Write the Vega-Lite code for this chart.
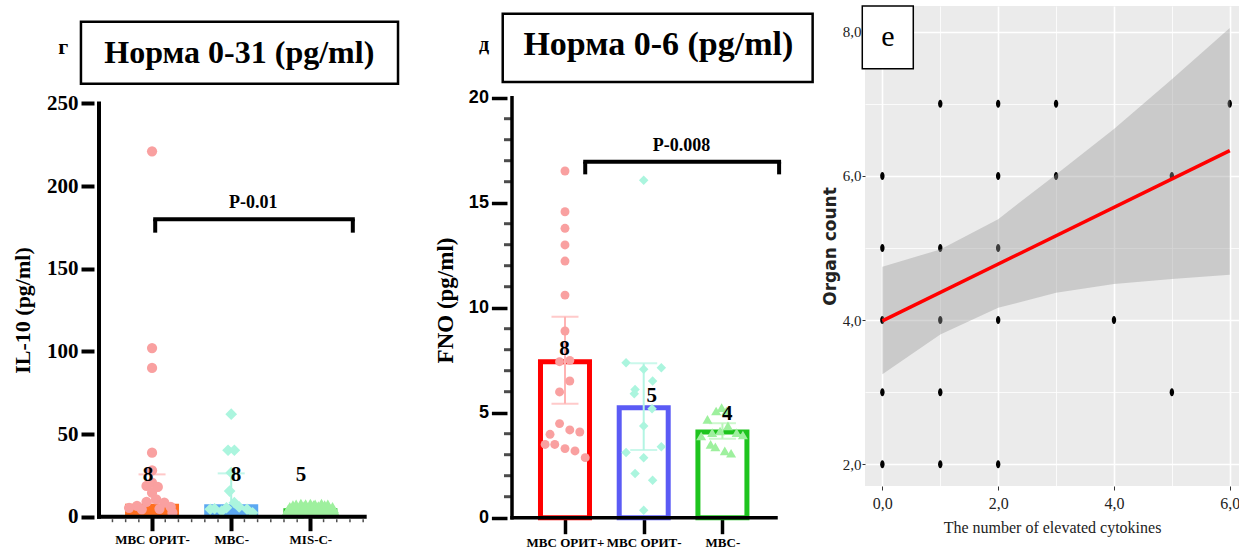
{
  "$schema": "https://vega.github.io/schema/vega-lite/v6.json",
  "padding": {"left": 11, "top": 5, "right": 0, "bottom": 0},
  "autosize": {"type": "pad"},
  "bounds": "flush",
  "spacing": 84,
  "config": {"view": {"stroke": null}},
  "datasets": {
    "p1bars": [
      {"group": "МВС ОРИТ-", "x": 1, "value": 7.9, "hi": 25.6},
      {"group": "МВС-", "x": 2, "value": 7.5, "hi": 26.2},
      {"group": "MIS-C-", "x": 3, "value": 5.1, "hi": 5.1}
    ],
    "p1minor": [
      {"v": 0.5}, {"v": 0.6667}, {"v": 0.8333}, {"v": 1.1667}, {"v": 1.3333}, {"v": 1.5}, {"v": 1.6667}, {"v": 1.8333},
      {"v": 2.1667}, {"v": 2.3333}, {"v": 2.5}, {"v": 2.6667}, {"v": 2.8333}, {"v": 3.1667}, {"v": 3.3333}, {"v": 3.5}, {"v": 3.6667}
    ],
    "p1pts": [
      {"group": "МВС ОРИТ-", "x": 1.0, "value": 221},
      {"group": "МВС ОРИТ-", "x": 1.0, "value": 102},
      {"group": "МВС ОРИТ-", "x": 1.0, "value": 90},
      {"group": "МВС ОРИТ-", "x": 1.0, "value": 38.7},
      {"group": "МВС ОРИТ-", "x": 1.0, "value": 28},
      {"group": "МВС ОРИТ-", "x": 1.0, "value": 20.6},
      {"group": "МВС ОРИТ-", "x": 0.93, "value": 18.6},
      {"group": "МВС ОРИТ-", "x": 1.073, "value": 18},
      {"group": "МВС ОРИТ-", "x": 1.0, "value": 14.5},
      {"group": "МВС ОРИТ-", "x": 1.053, "value": 10.5},
      {"group": "МВС ОРИТ-", "x": 0.93, "value": 9},
      {"group": "МВС ОРИТ-", "x": 1.155, "value": 8.5},
      {"group": "МВС ОРИТ-", "x": 0.81, "value": 6.5},
      {"group": "МВС ОРИТ-", "x": 0.71, "value": 5.4},
      {"group": "МВС ОРИТ-", "x": 1.236, "value": 5.9},
      {"group": "МВС ОРИТ-", "x": 0.87, "value": 4.5},
      {"group": "МВС ОРИТ-", "x": 1.094, "value": 4.8},
      {"group": "МВС ОРИТ-", "x": 1.257, "value": 2.4},
      {"group": "МВС-", "x": 2.0, "value": 62},
      {"group": "МВС-", "x": 1.96, "value": 40.2},
      {"group": "МВС-", "x": 2.04, "value": 40.2},
      {"group": "МВС-", "x": 2.0, "value": 26.6},
      {"group": "МВС-", "x": 1.98, "value": 15.5},
      {"group": "МВС-", "x": 2.04, "value": 8.5},
      {"group": "МВС-", "x": 1.735, "value": 4.5},
      {"group": "МВС-", "x": 1.88, "value": 3.4},
      {"group": "МВС-", "x": 2.1, "value": 5.9},
      {"group": "МВС-", "x": 2.2, "value": 4.5},
      {"group": "МВС-", "x": 2.27, "value": 2.4},
      {"group": "МВС-", "x": 1.94, "value": 5.4},
      {"group": "МВС-", "x": 1.79, "value": 4.8},
      {"group": "MIS-C-", "x": 2.70, "value": 2.0},
      {"group": "MIS-C-", "x": 2.72, "value": 4.0},
      {"group": "MIS-C-", "x": 2.74, "value": 5.5},
      {"group": "MIS-C-", "x": 2.76, "value": 2.5},
      {"group": "MIS-C-", "x": 2.78, "value": 6.5},
      {"group": "MIS-C-", "x": 2.80, "value": 4.0},
      {"group": "MIS-C-", "x": 2.82, "value": 7.0},
      {"group": "MIS-C-", "x": 2.84, "value": 2.0},
      {"group": "MIS-C-", "x": 2.86, "value": 5.0},
      {"group": "MIS-C-", "x": 2.88, "value": 7.5},
      {"group": "MIS-C-", "x": 2.90, "value": 3.5},
      {"group": "MIS-C-", "x": 2.92, "value": 6.0},
      {"group": "MIS-C-", "x": 2.94, "value": 7.2},
      {"group": "MIS-C-", "x": 2.96, "value": 2.5},
      {"group": "MIS-C-", "x": 2.98, "value": 5.0},
      {"group": "MIS-C-", "x": 3.00, "value": 7.5},
      {"group": "MIS-C-", "x": 3.02, "value": 3.0},
      {"group": "MIS-C-", "x": 3.04, "value": 6.5},
      {"group": "MIS-C-", "x": 3.06, "value": 7.0},
      {"group": "MIS-C-", "x": 3.08, "value": 4.0},
      {"group": "MIS-C-", "x": 3.10, "value": 6.0},
      {"group": "MIS-C-", "x": 3.12, "value": 2.0},
      {"group": "MIS-C-", "x": 3.14, "value": 7.5},
      {"group": "MIS-C-", "x": 3.16, "value": 4.5},
      {"group": "MIS-C-", "x": 3.18, "value": 6.5},
      {"group": "MIS-C-", "x": 3.20, "value": 3.0},
      {"group": "MIS-C-", "x": 3.22, "value": 7.0},
      {"group": "MIS-C-", "x": 3.24, "value": 5.0},
      {"group": "MIS-C-", "x": 3.26, "value": 2.5},
      {"group": "MIS-C-", "x": 3.28, "value": 5.5},
      {"group": "MIS-C-", "x": 3.30, "value": 3.0}
    ],
    "p1lab": [
      {"t": "8", "x": 0.95, "y": 25.2},
      {"t": "8", "x": 2.06, "y": 25.2},
      {"t": "5", "x": 2.88, "y": 25.2}
    ],
    "p2bars": [
      {"group": "МВС ОРИТ+", "x": 1, "value": 7.43, "lo": 5.43, "hi": 9.57},
      {"group": "МВС ОРИТ-", "x": 2, "value": 5.24, "lo": 3.22, "hi": 7.35},
      {"group": "МВС-", "x": 3, "value": 4.08, "lo": 3.76, "hi": 4.5}
    ],
    "p2minor": [
      {"v": 1}, {"v": 2}, {"v": 3}, {"v": 4}, {"v": 6}, {"v": 7}, {"v": 8}, {"v": 9},
      {"v": 11}, {"v": 12}, {"v": 13}, {"v": 14}, {"v": 16}, {"v": 17}, {"v": 18}, {"v": 19}
    ],
    "p2pts": [
      {"group": "МВС ОРИТ+", "x": 1.0, "value": 16.51},
      {"group": "МВС ОРИТ+", "x": 1.0, "value": 14.57},
      {"group": "МВС ОРИТ+", "x": 1.0, "value": 13.78},
      {"group": "МВС ОРИТ+", "x": 1.0, "value": 12.99},
      {"group": "МВС ОРИТ+", "x": 1.0, "value": 12.22},
      {"group": "МВС ОРИТ+", "x": 1.0, "value": 10.6},
      {"group": "МВС ОРИТ+", "x": 1.0, "value": 8.89},
      {"group": "МВС ОРИТ+", "x": 0.931, "value": 7.43},
      {"group": "МВС ОРИТ+", "x": 1.061, "value": 7.49},
      {"group": "МВС ОРИТ+", "x": 1.061, "value": 6.51},
      {"group": "МВС ОРИТ+", "x": 0.931, "value": 5.99},
      {"group": "МВС ОРИТ+", "x": 0.931, "value": 4.48},
      {"group": "МВС ОРИТ+", "x": 0.81, "value": 3.97},
      {"group": "МВС ОРИТ+", "x": 1.061, "value": 4.18},
      {"group": "МВС ОРИТ+", "x": 1.188, "value": 4.08},
      {"group": "МВС ОРИТ+", "x": 0.748, "value": 3.49},
      {"group": "МВС ОРИТ+", "x": 0.87, "value": 3.49},
      {"group": "МВС ОРИТ+", "x": 1.0, "value": 3.29},
      {"group": "МВС ОРИТ+", "x": 1.127, "value": 3.18},
      {"group": "МВС ОРИТ+", "x": 1.257, "value": 2.86},
      {"group": "МВС ОРИТ-", "x": 2.0, "value": 16.07},
      {"group": "МВС ОРИТ-", "x": 1.776, "value": 7.38},
      {"group": "МВС ОРИТ-", "x": 2.0, "value": 7.07},
      {"group": "МВС ОРИТ-", "x": 2.224, "value": 7.14},
      {"group": "МВС ОРИТ-", "x": 2.113, "value": 6.51},
      {"group": "МВС ОРИТ-", "x": 1.89, "value": 6.11},
      {"group": "МВС ОРИТ-", "x": 1.88, "value": 5.9},
      {"group": "МВС ОРИТ-", "x": 2.106, "value": 5.19},
      {"group": "МВС ОРИТ-", "x": 2.0, "value": 4.37},
      {"group": "МВС ОРИТ-", "x": 1.776, "value": 3.1},
      {"group": "МВС ОРИТ-", "x": 2.224, "value": 3.38},
      {"group": "МВС ОРИТ-", "x": 2.0, "value": 2.86},
      {"group": "МВС ОРИТ-", "x": 1.89, "value": 2.1},
      {"group": "МВС ОРИТ-", "x": 2.113, "value": 1.78},
      {"group": "МВС ОРИТ-", "x": 2.0, "value": 0.35},
      {"group": "МВС-", "x": 2.81, "value": 4.68},
      {"group": "МВС-", "x": 2.92, "value": 5.08},
      {"group": "МВС-", "x": 2.99, "value": 5.24},
      {"group": "МВС-", "x": 3.05, "value": 5.08},
      {"group": "МВС-", "x": 2.73, "value": 3.89},
      {"group": "МВС-", "x": 2.87, "value": 4.05},
      {"group": "МВС-", "x": 2.97, "value": 4.13},
      {"group": "МВС-", "x": 3.07, "value": 4.37},
      {"group": "МВС-", "x": 3.18, "value": 4.05},
      {"group": "МВС-", "x": 3.26, "value": 3.94},
      {"group": "МВС-", "x": 2.85, "value": 3.49},
      {"group": "МВС-", "x": 2.91, "value": 3.37},
      {"group": "МВС-", "x": 3.03, "value": 3.18},
      {"group": "МВС-", "x": 3.11, "value": 3.07}
    ],
    "p2lab": [
      {"t": "8", "x": 0.993, "y": 8.02},
      {"t": "5", "x": 2.101, "y": 5.795},
      {"t": "4", "x": 3.061, "y": 4.924}
    ],
    "p3pts": [
      {"x": 1, "y": 7}, {"x": 2, "y": 7}, {"x": 3, "y": 7}, {"x": 6, "y": 7},
      {"x": 0, "y": 6}, {"x": 2, "y": 6}, {"x": 3, "y": 6}, {"x": 5, "y": 6},
      {"x": 0, "y": 5}, {"x": 1, "y": 5}, {"x": 2, "y": 5},
      {"x": 0, "y": 4}, {"x": 1, "y": 4}, {"x": 2, "y": 4}, {"x": 4, "y": 4},
      {"x": 0, "y": 3}, {"x": 1, "y": 3}, {"x": 5, "y": 3},
      {"x": 0, "y": 2}, {"x": 1, "y": 2}, {"x": 2, "y": 2}
    ],
    "p3band": [
      {"x": 0, "lo": 3.25, "hi": 4.74},
      {"x": 1, "lo": 3.80, "hi": 4.98},
      {"x": 2, "lo": 4.17, "hi": 5.40},
      {"x": 3, "lo": 4.38, "hi": 6.02},
      {"x": 4, "lo": 4.50, "hi": 6.65},
      {"x": 5, "lo": 4.57, "hi": 7.34},
      {"x": 6, "lo": 4.63, "hi": 8.05}
    ],
    "p3fit": [
      {"x": 0, "y": 3.99},
      {"x": 6, "y": 6.35}
    ]
  },
  "hconcat": [
    {
      "width": 329,
      "height": 510.7,
      "resolve": {"scale": {"color": "independent", "shape": "independent", "size": "independent"}},
      "layer": [
        {
          "data": {"name": "p1bars"},
          "mark": {"type": "bar", "width": 54},
          "encoding": {
            "x": {"field": "x", "type": "quantitative",
              "scale": {"domain": [0.33, 4.3594], "nice": false, "zero": false},
              "axis": {
                "values": [1, 2, 3],
                "labelExpr": "datum.value === 1 ? 'МВС ОРИТ-' : datum.value === 2 ? 'МВС-' : 'MIS-C-'",
                "domain": false, "grid": false, "title": null,
                "tickColor": "black", "tickSize": 14, "tickWidth": 4,
                "labelFont": "Liberation Serif", "labelFontWeight": "bold", "labelFontSize": 13, "labelColor": "black",
                "labelPadding": 3, "labelAngle": 0, "labelFlush": false, "labelOverlap": false
              }
            },
            "y": {"field": "value", "type": "quantitative",
              "scale": {"domain": [0, 308.9], "nice": false},
              "axis": {
                "values": [0, 50, 100, 150, 200, 250],
                "domain": false, "grid": false,
                "tickColor": "black", "tickSize": 13, "tickWidth": 4,
                "labelFont": "Liberation Serif", "labelFontWeight": "bold", "labelFontSize": 21, "labelColor": "black", "labelPadding": 3,
                "labelOverlap": false,
                "title": "IL-10 (pg/ml)", "titleFont": "Liberation Serif", "titleFontWeight": "bold", "titleFontSize": 22, "titleColor": "black",
                "titlePadding": 12, "titleY": 304
              }
            },
            "color": {"field": "group", "type": "nominal",
              "scale": {"domain": ["МВС ОРИТ-", "МВС-", "MIS-C-"], "range": ["#FF6F1F", "#5CA8F2", "#22C322"]}, "legend": null}
          }
        },
        {
          "data": {"name": "p1bars"},
          "transform": [{"filter": "datum.hi > datum.value"}],
          "mark": {"type": "rule", "strokeWidth": 2},
          "encoding": {
            "x": {"field": "x", "type": "quantitative"},
            "y": {"field": "value", "type": "quantitative"},
            "y2": {"field": "hi"},
            "color": {"field": "group", "type": "nominal",
              "scale": {"domain": ["МВС ОРИТ-", "МВС-", "MIS-C-"], "range": ["#FFB0B0", "#A9F2DF", "#B0F0B0"]}, "legend": null}
          }
        },
        {
          "data": {"name": "p1bars"},
          "transform": [{"filter": "datum.hi > datum.value"}],
          "mark": {"type": "tick", "orient": "horizontal", "size": 27, "thickness": 2},
          "encoding": {
            "x": {"field": "x", "type": "quantitative"},
            "y": {"field": "hi", "type": "quantitative"},
            "color": {"field": "group", "type": "nominal",
              "scale": {"domain": ["МВС ОРИТ-", "МВС-", "MIS-C-"], "range": ["#FFB0B0", "#A9F2DF", "#B0F0B0"]}, "legend": null}
          }
        },
        {
          "data": {"name": "p1pts"},
          "mark": {"type": "point", "filled": true, "opacity": 1},
          "encoding": {
            "x": {"field": "x", "type": "quantitative"},
            "y": {"field": "value", "type": "quantitative"},
            "color": {"field": "group", "type": "nominal",
              "scale": {"domain": ["МВС ОРИТ-", "МВС-", "MIS-C-"], "range": ["#F9A0A0", "#ABF5DE", "#9EF09E"]}, "legend": null},
            "shape": {"field": "group", "type": "nominal",
              "scale": {"domain": ["МВС ОРИТ-", "МВС-", "MIS-C-"], "range": ["circle", "diamond", "triangle-up"]}, "legend": null},
            "size": {"field": "group", "type": "nominal",
              "scale": {"domain": ["МВС ОРИТ-", "МВС-", "MIS-C-"], "range": [105, 169, 60]}, "legend": null}
          }
        },
        {
          "data": {"name": "p1lab"},
          "mark": {"type": "text", "font": "Liberation Serif", "fontWeight": "bold", "fontSize": 21, "color": "black", "baseline": "middle"},
          "encoding": {
            "x": {"field": "x", "type": "quantitative"},
            "y": {"field": "y", "type": "quantitative"},
            "text": {"field": "t"}
          }
        },
        {
          "data": {"values": [{}]},
          "mark": {"type": "rule", "strokeWidth": 4, "color": "black", "strokeCap": "square"},
          "encoding": {
            "x": {"datum": 1.04, "type": "quantitative"},
            "x2": {"datum": 3.536},
            "y": {"datum": 179.9, "type": "quantitative"}
          }
        },
        {
          "data": {"values": [{}]},
          "mark": {"type": "rule", "strokeWidth": 4, "color": "black"},
          "encoding": {
            "x": {"datum": 1.04, "type": "quantitative"},
            "y": {"datum": 171.8, "type": "quantitative"},
            "y2": {"datum": 179.9}
          }
        },
        {
          "data": {"values": [{}]},
          "mark": {"type": "rule", "strokeWidth": 4, "color": "black"},
          "encoding": {
            "x": {"datum": 3.536, "type": "quantitative"},
            "y": {"datum": 171.8, "type": "quantitative"},
            "y2": {"datum": 179.9}
          }
        },
        {
          "data": {"values": [{}]},
          "mark": {"type": "text", "text": "P-0.01", "font": "Liberation Serif", "fontWeight": "bold", "fontSize": 18, "color": "black", "baseline": "middle"},
          "encoding": {
            "x": {"datum": 2.277, "type": "quantitative"},
            "y": {"datum": 189.9, "type": "quantitative"}
          }
        },
        {
          "data": {"values": [{}]},
          "mark": {"type": "rect", "fill": "white", "stroke": "black", "strokeWidth": 2.5},
          "encoding": {
            "x": {"datum": 0.102, "type": "quantitative"},
            "x2": {"datum": 4.107},
            "y": {"datum": 261.9, "type": "quantitative"},
            "y2": {"datum": 299.4}
          }
        },
        {
          "data": {"values": [{}]},
          "mark": {"type": "text", "text": "Норма 0-31 (pg/ml)", "font": "Liberation Serif", "fontWeight": "bold", "fontSize": 32, "color": "black", "baseline": "alphabetic", "align": "center"},
          "encoding": {
            "x": {"datum": 2.102, "type": "quantitative"},
            "y": {"datum": 274.6, "type": "quantitative"}
          }
        },
        {
          "data": {"values": [{}]},
          "mark": {"type": "text", "text": "г", "font": "Liberation Serif", "fontWeight": "bold", "fontSize": 22, "color": "black", "baseline": "alphabetic", "align": "center"},
          "encoding": {
            "x": {"datum": -0.121, "type": "quantitative"},
            "y": {"datum": 279.7, "type": "quantitative"}
          }
        },
        {
          "data": {"name": "p1minor"},
          "mark": {"type": "tick", "orient": "vertical", "size": 3, "thickness": 1.5, "color": "black", "yOffset": 4},
          "encoding": {
            "x": {"field": "v", "type": "quantitative"},
            "y": {"datum": 0, "type": "quantitative"}
          }
        },
        {
          "data": {"values": [{}]},
          "mark": {"type": "rule", "strokeWidth": 4, "color": "black", "strokeCap": "square"},
          "encoding": {
            "x": {"datum": 0.33, "type": "quantitative"},
            "y": {"datum": 0, "type": "quantitative"},
            "y2": {"datum": 250}
          }
        },
        {
          "data": {"values": [{}]},
          "mark": {"type": "rule", "strokeWidth": 4, "color": "black", "strokeCap": "square"},
          "encoding": {
            "x": {"datum": 0.33, "type": "quantitative"},
            "x2": {"datum": 3.686},
            "y": {"datum": 0, "type": "quantitative"}
          }
        }
      ]
    },
    {
      "width": 274,
      "height": 511.7,
      "resolve": {"scale": {"color": "independent", "shape": "independent", "size": "independent", "stroke": "independent"}},
      "layer": [
        {
          "data": {"name": "p2bars"},
          "mark": {"type": "bar", "width": 49, "fill": "white", "strokeWidth": 5},
          "encoding": {
            "x": {"field": "x", "type": "quantitative",
              "scale": {"domain": [0.3268, 3.6806], "nice": false, "zero": false},
              "axis": {
                "values": [1, 2, 3],
                "labelExpr": "datum.value === 1 ? 'МВС ОРИТ+' : datum.value === 2 ? 'МВС ОРИТ-' : 'МВС-'",
                "domain": false, "grid": false, "title": null,
                "tickColor": "black", "tickSize": 16, "tickWidth": 3.5,
                "labelFont": "Liberation Serif", "labelFontWeight": "bold", "labelFontSize": 13, "labelColor": "black",
                "labelPadding": 3, "labelAngle": 0, "labelFlush": false, "labelOverlap": false
              }
            },
            "y": {"field": "value", "type": "quantitative",
              "scale": {"domain": [0, 24.367], "nice": false},
              "axis": {
                "values": [0, 5, 10, 15, 20],
                "domain": false, "grid": false,
                "tickColor": "black", "tickSize": 15.6, "tickWidth": 3.5,
                "labelFont": "Liberation Sans", "labelFontWeight": "bold", "labelFontSize": 18, "labelColor": "black", "labelPadding": 3,
                "labelOverlap": false,
                "title": "FNO (pg/ml)", "titleFont": "Liberation Serif", "titleFontWeight": "bold", "titleFontSize": 23, "titleColor": "black",
                "titlePadding": 11, "titleY": 294
              }
            },
            "stroke": {"field": "group", "type": "nominal",
              "scale": {"domain": ["МВС ОРИТ+", "МВС ОРИТ-", "МВС-"], "range": ["#FF0000", "#5B5BF5", "#1EC41E"]}, "legend": null}
          }
        },
        {
          "data": {"name": "p2bars"},
          "mark": {"type": "rule", "strokeWidth": 2},
          "encoding": {
            "x": {"field": "x", "type": "quantitative"},
            "y": {"field": "lo", "type": "quantitative"},
            "y2": {"field": "hi"},
            "color": {"field": "group", "type": "nominal",
              "scale": {"domain": ["МВС ОРИТ+", "МВС ОРИТ-", "МВС-"], "range": ["#FFB3B3", "#B3F5E3", "#B8F5B8"]}, "legend": null}
          }
        },
        {
          "data": {"name": "p2bars"},
          "mark": {"type": "tick", "orient": "horizontal", "size": 27, "thickness": 2},
          "encoding": {
            "x": {"field": "x", "type": "quantitative"},
            "y": {"field": "hi", "type": "quantitative"},
            "color": {"field": "group", "type": "nominal",
              "scale": {"domain": ["МВС ОРИТ+", "МВС ОРИТ-", "МВС-"], "range": ["#FFB3B3", "#B3F5E3", "#B8F5B8"]}, "legend": null}
          }
        },
        {
          "data": {"name": "p2bars"},
          "mark": {"type": "tick", "orient": "horizontal", "size": 27, "thickness": 2},
          "encoding": {
            "x": {"field": "x", "type": "quantitative"},
            "y": {"field": "lo", "type": "quantitative"},
            "color": {"field": "group", "type": "nominal",
              "scale": {"domain": ["МВС ОРИТ+", "МВС ОРИТ-", "МВС-"], "range": ["#FFB3B3", "#B3F5E3", "#B8F5B8"]}, "legend": null}
          }
        },
        {
          "data": {"name": "p2pts"},
          "mark": {"type": "point", "filled": true, "opacity": 1},
          "encoding": {
            "x": {"field": "x", "type": "quantitative"},
            "y": {"field": "value", "type": "quantitative"},
            "color": {"field": "group", "type": "nominal",
              "scale": {"domain": ["МВС ОРИТ+", "МВС ОРИТ-", "МВС-"], "range": ["#F9A0A0", "#ABF5DE", "#9EF09E"]}, "legend": null},
            "shape": {"field": "group", "type": "nominal",
              "scale": {"domain": ["МВС ОРИТ+", "МВС ОРИТ-", "МВС-"], "range": ["circle", "diamond", "triangle-up"]}, "legend": null},
            "size": {"field": "group", "type": "nominal",
              "scale": {"domain": ["МВС ОРИТ+", "МВС ОРИТ-", "МВС-"], "range": [80, 100, 70]}, "legend": null}
          }
        },
        {
          "data": {"name": "p2lab"},
          "mark": {"type": "text", "font": "Liberation Serif", "fontWeight": "bold", "fontSize": 21, "color": "black", "baseline": "middle"},
          "encoding": {
            "x": {"field": "x", "type": "quantitative"},
            "y": {"field": "y", "type": "quantitative"},
            "text": {"field": "t"}
          }
        },
        {
          "data": {"values": [{}]},
          "mark": {"type": "rule", "strokeWidth": 4, "color": "black", "strokeCap": "square"},
          "encoding": {
            "x": {"datum": 1.257, "type": "quantitative"},
            "x2": {"datum": 3.72},
            "y": {"datum": 16.95, "type": "quantitative"}
          }
        },
        {
          "data": {"values": [{}]},
          "mark": {"type": "rule", "strokeWidth": 4, "color": "black"},
          "encoding": {
            "x": {"datum": 1.257, "type": "quantitative"},
            "y": {"datum": 16.35, "type": "quantitative"},
            "y2": {"datum": 16.95}
          }
        },
        {
          "data": {"values": [{}]},
          "mark": {"type": "rule", "strokeWidth": 4, "color": "black"},
          "encoding": {
            "x": {"datum": 3.72, "type": "quantitative"},
            "y": {"datum": 16.35, "type": "quantitative"},
            "y2": {"datum": 16.95}
          }
        },
        {
          "data": {"values": [{}]},
          "mark": {"type": "text", "text": "P-0.008", "font": "Liberation Serif", "fontWeight": "bold", "fontSize": 18, "color": "black", "baseline": "middle"},
          "encoding": {
            "x": {"datum": 2.481, "type": "quantitative"},
            "y": {"datum": 17.7, "type": "quantitative"}
          }
        },
        {
          "data": {"values": [{}]},
          "mark": {"type": "rect", "fill": "white", "stroke": "black", "strokeWidth": 2.5},
          "encoding": {
            "x": {"datum": 0.209, "type": "quantitative"},
            "x2": {"datum": 4.146},
            "y": {"datum": 20.75, "type": "quantitative"},
            "y2": {"datum": 24.0}
          }
        },
        {
          "data": {"values": [{}]},
          "mark": {"type": "text", "text": "Норма 0-6 (pg/ml)", "font": "Liberation Serif", "fontWeight": "bold", "fontSize": 34, "color": "black", "baseline": "alphabetic", "align": "center"},
          "encoding": {
            "x": {"datum": 2.186, "type": "quantitative"},
            "y": {"datum": 22.02, "type": "quantitative"}
          }
        },
        {
          "data": {"values": [{}]},
          "mark": {"type": "text", "text": "д", "font": "Liberation Serif", "fontWeight": "bold", "fontSize": 20, "color": "black", "baseline": "alphabetic", "align": "center"},
          "encoding": {
            "x": {"datum": -0.028, "type": "quantitative"},
            "y": {"datum": 22.22, "type": "quantitative"}
          }
        },
        {
          "data": {"name": "p2minor"},
          "mark": {"type": "tick", "orient": "horizontal", "size": 8, "thickness": 3, "color": "black", "xOffset": -4},
          "encoding": {
            "x": {"datum": 0.3268, "type": "quantitative"},
            "y": {"field": "v", "type": "quantitative"}
          }
        },
        {
          "data": {"values": [{}]},
          "mark": {"type": "rule", "strokeWidth": 3.5, "color": "black", "strokeCap": "square"},
          "encoding": {
            "x": {"datum": 0.3268, "type": "quantitative"},
            "y": {"datum": 0, "type": "quantitative"},
            "y2": {"datum": 20}
          }
        },
        {
          "data": {"values": [{}]},
          "mark": {"type": "rule", "strokeWidth": 3.5, "color": "black", "strokeCap": "square"},
          "encoding": {
            "x": {"datum": 0.3268, "type": "quantitative"},
            "x2": {"datum": 3.6806},
            "y": {"datum": 0, "type": "quantitative"}
          }
        }
      ]
    },
    {
      "width": 374,
      "height": 480,
      "view": {"fill": "#EBEBEB", "stroke": null},
      "layer": [
        {
          "data": {"name": "p3pts"},
          "mark": {"type": "point", "filled": true, "opacity": 1, "color": "black", "size": 64,
            "shape": "M0,-1A0.55,1 0 1 1 0,1A0.55,1 0 1 1 0,-1Z"},
          "encoding": {
            "x": {"field": "x", "type": "quantitative",
              "scale": {"domain": [-0.3, 6.1594], "nice": false, "zero": false},
              "axis": {
                "values": [0, 1, 2, 3, 4, 5, 6],
                "labelExpr": "datum.value % 2 === 0 ? replace(format(datum.value, '.1f'), '.', ',') : ''",
                "domain": false,
                "grid": true, "gridColor": "white",
                "gridWidth": {"condition": {"test": "datum.value % 2 === 0", "value": 1.6}, "value": 0.8},
                "tickColor": "#333333", "tickWidth": 1, "tickSize": 4,
                "tickOpacity": {"condition": {"test": "datum.value % 2 === 0", "value": 1}, "value": 0},
                "labelFont": "Liberation Serif", "labelFontSize": 16, "labelColor": "#222222", "labelPadding": 5,
                "labelFlush": false, "labelOverlap": false,
                "title": "The number of elevated cytokines", "titleFont": "Liberation Serif", "titleFontWeight": "normal",
                "titleFontSize": 16, "titleColor": "#222222", "titlePadding": 8
              }
            },
            "y": {"field": "y", "type": "quantitative",
              "scale": {"domain": [1.699, 8.356], "nice": false, "zero": false},
              "axis": {
                "values": [2, 3, 4, 5, 6, 7, 8],
                "labelExpr": "datum.value % 2 === 0 ? replace(format(datum.value, '.1f'), '.', ',') : ''",
                "domain": false,
                "grid": true, "gridColor": "white",
                "gridWidth": {"condition": {"test": "datum.value % 2 === 0", "value": 1.6}, "value": 0.8},
                "tickColor": "#333333", "tickWidth": 1, "tickSize": 3,
                "tickOpacity": {"condition": {"test": "datum.value % 2 === 0", "value": 1}, "value": 0},
                "labelFont": "Liberation Serif", "labelFontSize": 15, "labelColor": "#222222", "labelPadding": 1,
                "labelOverlap": false,
                "title": "Organ count", "titleFont": "DejaVu Sans", "titleFontWeight": "bold",
                "titleFontSize": 17, "titleColor": "#222222", "titlePadding": 3
              }
            }
          }
        },
        {
          "data": {"name": "p3band"},
          "mark": {"type": "area", "fill": "#999999", "fillOpacity": 0.4},
          "encoding": {
            "x": {"field": "x", "type": "quantitative"},
            "y": {"field": "lo", "type": "quantitative"},
            "y2": {"field": "hi"}
          }
        },
        {
          "data": {"name": "p3fit"},
          "mark": {"type": "line", "color": "#FF0000", "strokeWidth": 3.5},
          "encoding": {
            "x": {"field": "x", "type": "quantitative"},
            "y": {"field": "y", "type": "quantitative"}
          }
        },
        {
          "data": {"values": [{}]},
          "mark": {"type": "rect", "fill": "white", "stroke": "black", "strokeWidth": 1.5},
          "encoding": {
            "x": {"datum": -0.347, "type": "quantitative"},
            "x2": {"datum": 0.534},
            "y": {"datum": 7.486, "type": "quantitative"},
            "y2": {"datum": 8.356}
          }
        },
        {
          "data": {"values": [{}]},
          "mark": {"type": "text", "text": "e", "font": "Liberation Serif", "fontSize": 30, "color": "black", "baseline": "middle", "align": "center"},
          "encoding": {
            "x": {"datum": 0.097, "type": "quantitative"},
            "y": {"datum": 7.926, "type": "quantitative"}
          }
        }
      ]
    }
  ]
}
